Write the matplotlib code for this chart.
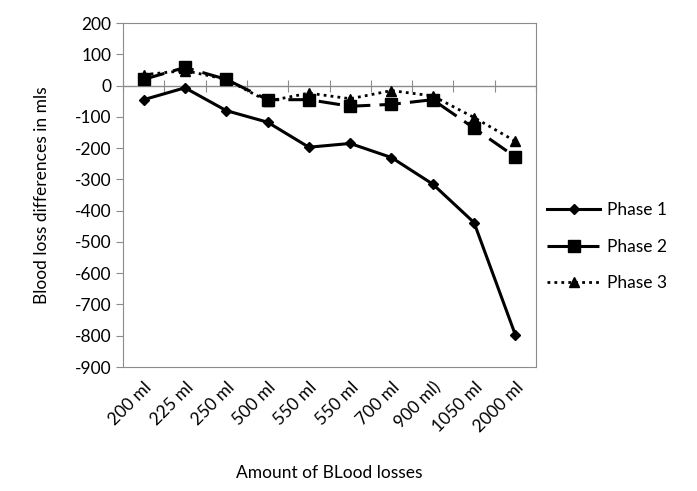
import matplotlib
matplotlib.use('Agg')
import matplotlib.pyplot as plt
import numpy as np

plt.rcParams['font.family'] = ['Lato', 'DejaVu Sans']
plt.rcParams['axes.unicode_minus'] = False

# Data
categories = ['200 ml', '225 ml', '250 ml', '500 ml', '550 ml', '550 ml',
              '700 ml', '900 ml)', '1050 ml', '2000 ml']
phase1 = [-45, -7, -80, -117, -197, -185, -230, -315, -438, -797]
phase2 = [20, 58, 20, -45, -45, -66, -60, -45, -136, -228]
phase3 = [35, 48, 20, -50, -24, -42, -16, -33, -102, -178]
yticks = list(range(-900, 201, 100))

grey = '#8c8c8c'
x = np.arange(len(categories))

fig = plt.figure(figsize=(6.97, 4.91), dpi=100)
ax = fig.add_axes([0.1765, 0.2525, 0.5925, 0.7005])

ax.plot(x, phase1, color='black', lw=2.2, marker='D', ms=5, label='Phase 1')
ax.plot(x, phase2, color='black', lw=2.2, marker='s', ms=8,
        dashes=(7, 3), label='Phase 2')
ax.plot(x, phase3, color='black', lw=2.0, marker='^', ms=7,
        linestyle=(0, (1, 1.5)), label='Phase 3')

ax.set_xlim(-0.5, len(categories) - 0.5)
ax.set_ylim(-900, 200)
ax.set_yticks(yticks)
ax.tick_params(axis='y', direction='out', length=5, color=grey, labelsize=12.5)
ax.set_xticks(x)
ax.set_xticklabels(categories, rotation=45, ha='right', rotation_mode='anchor',
                   fontsize=12.5)
ax.tick_params(axis='x', length=0, pad=9)

for s in ax.spines.values():
    s.set_color(grey)

# category axis through zero
ax.axhline(0, color=grey, lw=1, zorder=0)
sec = ax.secondary_xaxis((0 - (-900)) / 1100)
sec.set_xticks(np.arange(len(categories) + 1) - 0.5)
sec.tick_params(direction='inout', length=8, color=grey, labelbottom=False,
                labeltop=False)
sec.spines['bottom'].set_visible(False)
sec.spines['top'].set_visible(False)

ax.set_ylabel('Blood loss differences in mls', fontsize=12.5, labelpad=18)
ax.set_xlabel('Amount of BLood losses', fontsize=12.5, labelpad=21)

ax.legend(loc='center left', bbox_to_anchor=(0.99, 0.35), frameon=False,
          fontsize=12.5, handlelength=3.0, labelspacing=1.2, handletextpad=0.4)

fig.savefig('out.png', dpi=100)
